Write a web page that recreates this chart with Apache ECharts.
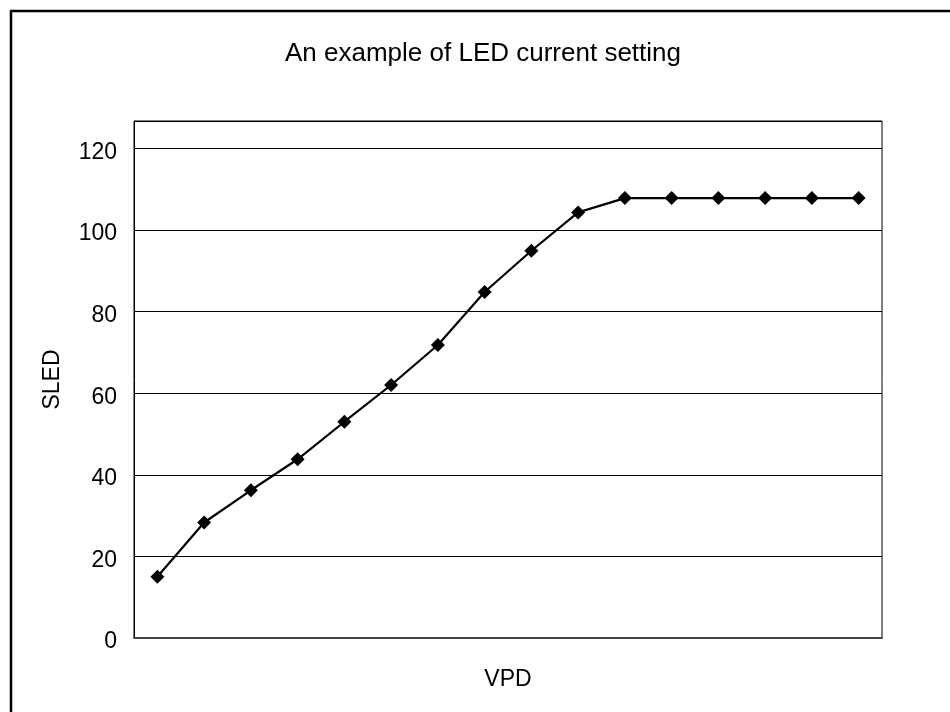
<!DOCTYPE html>
<html>
<head>
<meta charset="utf-8">
<script src="https://cdn.jsdelivr.net/npm/echarts@6/dist/echarts.min.js"></script>
<style>
  html, body { margin: 0; padding: 0; background: #fff; }
  #chart { width: 950px; height: 712px; }
</style>
</head>
<body>
<div id="chart"></div>
<script>
const titleText = "An example of LED current setting";
const xName = "VPD";
const yName = "SLED";
const categories = ["1","2","3","4","5","6","7","8","9","10","11","12","13","14","15","16"];
const sledValues = [15, 28.3, 36.2, 43.8, 53, 62, 71.8, 84.8, 94.9, 104.3, 107.8, 107.8, 107.8, 107.8, 107.8, 107.8];
const yTicks = [0, 20, 40, 60, 80, 100, 120];

const FONT = "'Liberation Sans', Arial, sans-serif";
const chart = echarts.init(document.getElementById('chart'), null, { renderer: 'canvas' });
chart.setOption({
  backgroundColor: '#ffffff',
  animation: false,
  title: {
    text: titleText,
    left: 285,
    top: 41,
    padding: 0,
    textStyle: { fontFamily: FONT, fontSize: 26, fontWeight: 'normal', color: '#000' }
  },
  graphic: [{
    type: 'rect',
    shape: { x: 11, y: 11, width: 1000, height: 800 },
    style: { fill: 'none', stroke: '#000', lineWidth: 2.5 },
    silent: true
  }],
  grid: {
    left: 134, right: 68, top: 121, bottom: 74,
    show: true, borderColor: '#000', borderWidth: 1, backgroundColor: 'transparent'
  },
  xAxis: {
    type: 'category',
    data: categories,
    boundaryGap: true,
    name: xName,
    nameLocation: 'middle',
    nameGap: 30,
    nameTextStyle: { fontFamily: FONT, fontSize: 23, color: '#000' },
    axisLine: { show: true, lineStyle: { color: '#444', width: 2 } },
    axisTick: { show: false },
    axisLabel: { show: false },
    splitLine: { show: false }
  },
  yAxis: {
    type: 'value',
    min: 0,
    max: 126.7,
    interval: 20,
    name: yName,
    nameLocation: 'middle',
    nameRotate: 90,
    nameGap: 70,
    nameTextStyle: { fontFamily: FONT, fontSize: 23, color: '#000' },
    axisLine: { show: true, lineStyle: { color: '#000', width: 1 } },
    axisTick: { show: false },
    axisLabel: {
      margin: 17,
      verticalAlign: 'top',
      lineHeight: 8,
      fontFamily: FONT, fontSize: 23, color: '#000',
      showMaxLabel: false,
      formatter: function (v) { return yTicks.indexOf(v) >= 0 ? String(v) : ''; }
    },
    splitLine: { show: true, lineStyle: { color: '#000', width: 1 } }
  },
  series: [{
    type: 'line',
    data: sledValues,
    symbol: 'diamond',
    symbolSize: 14,
    showAllSymbol: true,
    itemStyle: { color: '#000' },
    lineStyle: { color: '#000', width: 2.2 }
  }]
});
</script>
</body>
</html>
